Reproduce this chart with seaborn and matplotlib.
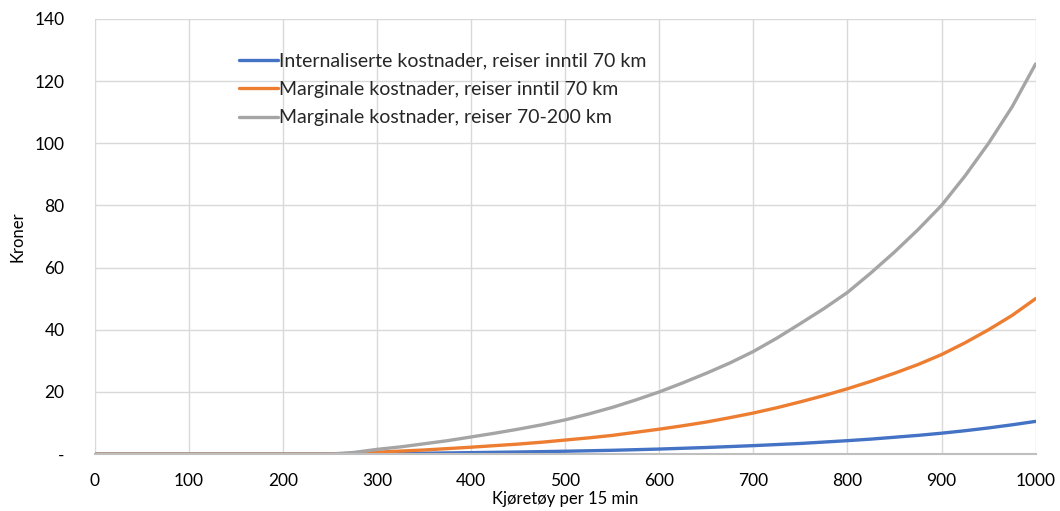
import numpy as np
import pandas as pd
import matplotlib
matplotlib.use("Agg")
import matplotlib.pyplot as plt
import seaborn as sns

x_vals = [0, 50, 100, 150, 200, 250, 275, 300, 325, 350, 375, 400, 425, 450, 475,
          500, 525, 550, 575, 600, 625, 650, 675, 700, 725, 750, 775, 800, 825,
          850, 875, 900, 925, 950, 975, 1000]
internal_70 = [0, 0, 0, 0, 0, 0, 0.03, 0.1, 0.17, 0.25, 0.35, 0.45, 0.55, 0.65, 0.77,
               0.9, 1.05, 1.2, 1.4, 1.6, 1.85, 2.1, 2.4, 2.7, 3.05, 3.4, 3.85, 4.3, 4.8,
               5.4, 6.0, 6.7, 7.5, 8.4, 9.4, 10.5]
marginal_70 = [0, 0, 0, 0, 0, 0, 0.2, 0.6, 0.95, 1.3, 1.75, 2.2, 2.7, 3.2, 3.8,
               4.5, 5.2, 6.0, 7.0, 8.0, 9.1, 10.3, 11.7, 13.2, 14.9, 16.8, 18.8, 21.0, 23.4,
               26.0, 28.8, 32.0, 35.8, 40.0, 44.6, 50.0]
marginal_70_200 = [0, 0, 0, 0, 0, 0, 0.5, 1.5, 2.3, 3.3, 4.3, 5.5, 6.7, 8.0, 9.4,
                   11.0, 12.9, 15.0, 17.4, 20.0, 22.9, 26.0, 29.3, 33.0, 37.3, 42.0, 46.8,
                   52.0, 58.3, 65.0, 72.2, 80.0, 89.5, 100.0, 111.7, 125.5]
series_names = ["Internaliserte kostnader, reiser inntil 70 km",
                "Marginale kostnader, reiser inntil 70 km",
                "Marginale kostnader, reiser 70-200 km"]
colors = ["#4472C4", "#ED7D31", "#A5A5A5"]
y_ticks = [0, 20, 40, 60, 80, 100, 120, 140]
y_ticklabels = ["-", "20", "40", "60", "80", "100", "120", "140"]
x_ticks = [0, 100, 200, 300, 400, 500, 600, 700, 800, 900, 1000]

df = pd.concat([
    pd.DataFrame({"x": x_vals, "y": vals, "serie": name})
    for name, vals in zip(series_names, [internal_70, marginal_70, marginal_70_200])
])

sns.set_theme(style="whitegrid")
plt.rcParams["font.family"] = ["Lato", "DejaVu Sans"]

fig = plt.figure(figsize=(10.6, 5.11), dpi=100)
ax = fig.add_axes([0.0896, 0.1115, 0.8874, 0.8515])

sns.lineplot(data=df, x="x", y="y", hue="serie", palette=colors, linewidth=2.4,
             ax=ax, legend=True)

ax.set_xlim(0, 1000)
ax.set_ylim(0, 140)
ax.set_xticks(x_ticks)
ax.set_xticklabels([str(v) for v in x_ticks], fontsize=12.5, color="#000000")
ax.set_yticks(y_ticks)
ax.set_yticklabels(y_ticklabels, fontsize=12.5, color="#000000")
ax.tick_params(axis="x", pad=14, length=0)
ax.tick_params(axis="y", pad=22, length=0)
ax.grid(True, color="#D9D9D9", linewidth=1.0)
for s in ["top", "right", "left"]:
    ax.spines[s].set_visible(False)
ax.spines["bottom"].set_color("#BFBFBF")
ax.spines["bottom"].set_linewidth(1.5)
ax.set_xlabel("Kjøretøy per 15 min", fontsize=12, labelpad=1, color="#000000")
ax.set_ylabel("Kroner", fontsize=12, labelpad=6, color="#000000")

leg = ax.legend(loc="upper left", bbox_to_anchor=(0.145, 0.94), frameon=False,
                fontsize=14, handlelength=2.0, handletextpad=0.05, labelspacing=0.58,
                borderaxespad=0)
for line in leg.get_lines():
    line.set_linewidth(2.4)

fig.savefig("out.png", dpi=100)
